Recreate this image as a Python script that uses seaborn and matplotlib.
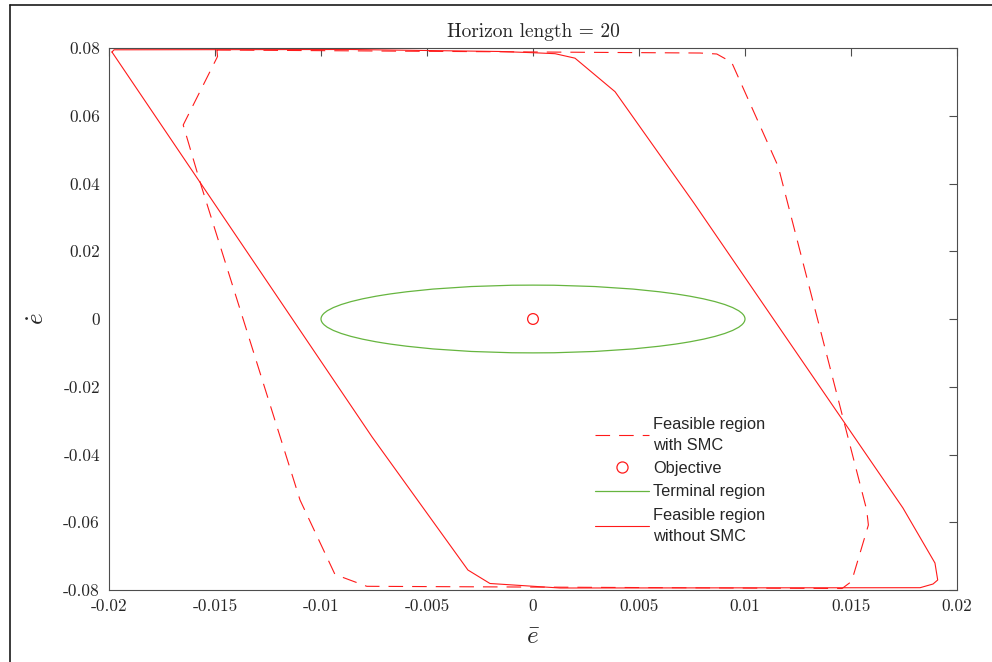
import numpy as np
import pandas as pd
import matplotlib
matplotlib.use("Agg")
import matplotlib.pyplot as plt
import seaborn as sns
from matplotlib.lines import Line2D
from matplotlib.patches import Ellipse

# ---------------- data ----------------
# Feasible region with SMC (dashed polygon vertices)
smc_x = [-0.01491, -0.01488, -0.01650, -0.01571, -0.01099, -0.00934, -0.00784,
         0.01458, 0.01499, 0.01509, 0.01582, 0.01574, 0.01157, 0.00937,
         0.00867, 0.00788]
smc_y = [0.07941, 0.07749, 0.05727, 0.04053, -0.05343, -0.07542, -0.07891,
         -0.07956, -0.07764, -0.07616, -0.06081, -0.05638, 0.04496, 0.07578,
         0.07823, 0.07852]

# Feasible region without SMC (solid polygon vertices)
nosmc_x = [-0.01986, -0.01976, -0.00863, -0.00156, 0.00000, 0.00104, 0.00198,
           0.00387, 0.00759, 0.01745, 0.01896, 0.01909, 0.01887, 0.01826,
           0.00127, -0.00203, -0.00307, -0.00759]
nosmc_y = [0.07882, 0.07947, 0.07956, 0.07897, 0.07861, 0.07832, 0.07700,
           0.06710, 0.03424, -0.05579, -0.07203, -0.07705, -0.07823, -0.07932,
           -0.07941, -0.07808, -0.07410, -0.03483]

# Objective point
obj_x = [0.0]
obj_y = [0.0]

# Terminal region (ellipse): centre and semi-axes
term_center = (0.0, 0.0)
term_semi_x = 0.01
term_semi_y = 0.01

title_text = "Horizon length = 20"
legend_labels = ["Feasible region\nwith SMC", "Objective", "Terminal region",
                 "Feasible region\nwithout SMC"]
xticks = [-0.02, -0.015, -0.01, -0.005, 0, 0.005, 0.01, 0.015, 0.02]
yticks = [-0.08, -0.06, -0.04, -0.02, 0, 0.02, 0.04, 0.06, 0.08]

# ---------------- style ----------------
sns.set_theme(style="white")
plt.rcParams.update({
    "font.family": ["cmr10", "DejaVu Serif"],
    "mathtext.fontset": "cm",
    "axes.unicode_minus": False,
    "axes.formatter.use_mathtext": False,
    "lines.scale_dashes": False,
})

RED = "#ff1a1a"
GREEN = "#66b53f"
AXC = "#4d4d4d"

fig = plt.figure(figsize=(9.92, 6.62), dpi=100)
ax = fig.add_axes([109 / 992, 1 - 590 / 662, (957 - 109) / 992, (590 - 48) / 662])

# closed polygons
df_smc = pd.DataFrame({"x": smc_x + smc_x[:1], "y": smc_y + smc_y[:1]})
df_nosmc = pd.DataFrame({"x": nosmc_x + nosmc_x[:1], "y": nosmc_y + nosmc_y[:1]})

sns.lineplot(data=df_smc, x="x", y="y", sort=False, estimator=None, ax=ax,
             color=RED, linewidth=0.8, linestyle=(0, (10.5, 6.5)))
sns.lineplot(data=df_nosmc, x="x", y="y", sort=False, estimator=None, ax=ax,
             color=RED, linewidth=0.8)
ell = Ellipse(term_center, width=2 * term_semi_x, height=2 * term_semi_y,
              fill=False, edgecolor=GREEN, linewidth=0.9)
ax.add_patch(ell)
sns.scatterplot(x=obj_x, y=obj_y, ax=ax, marker="o", s=60,
                facecolors="none", edgecolor=RED, linewidth=0.9, zorder=5)

ax.set_xlim(-0.02, 0.02)
ax.set_ylim(-0.08, 0.08)
ax.set_xticks(xticks)
ax.set_yticks(yticks)
ax.set_xticklabels([f"{v:g}" for v in xticks])
ax.set_yticklabels([f"{v:g}" for v in yticks])
ax.tick_params(direction="in", length=6, width=0.8, colors=AXC,
               labelsize=12.5, pad=6.5, top=True, right=True,
               labelcolor="#262626")
for s in ax.spines.values():
    s.set_color(AXC)
    s.set_linewidth(0.8)

ax.set_title(title_text, fontsize=14, pad=8, color="#262626")
ax.set_xlabel(r"$\bar{e}$", fontsize=18, labelpad=8, color="#262626")
ax.set_ylabel(r"$\dot{e}$", fontsize=18, labelpad=10, color="#262626")

handles = [
    Line2D([], [], color=RED, linewidth=0.8, linestyle=(0, (10.5, 6.5))),
    Line2D([], [], color=RED, marker="o", markerfacecolor="none",
           markersize=8, markeredgewidth=0.9, linestyle="none"),
    Line2D([], [], color=GREEN, linewidth=0.9),
    Line2D([], [], color=RED, linewidth=0.8),
]
leg = ax.legend(handles, legend_labels, loc="upper left",
                bbox_to_anchor=(595 / 992, 1 - 417 / 662),
                bbox_transform=fig.transFigure, frameon=False,
                prop={"family": ["Liberation Sans", "DejaVu Sans"], "size": 11.8},
                handlelength=3.3, handletextpad=0.25, labelspacing=0.5,
                borderpad=0, borderaxespad=0)
for t in leg.get_texts():
    t.set_linespacing(1.5)
    t.set_color("#262626")

# screenshot frame lines (left and top)
fig.add_artist(Line2D([9.5 / 992, 9.5 / 992], [0, 1 - 4.5 / 662],
                      transform=fig.transFigure, color="#1a1a1a", linewidth=1.2))
fig.add_artist(Line2D([9.5 / 992, 1], [1 - 4.5 / 662, 1 - 4.5 / 662],
                      transform=fig.transFigure, color="#1a1a1a", linewidth=1.2))

fig.savefig("out.png", dpi=100)
